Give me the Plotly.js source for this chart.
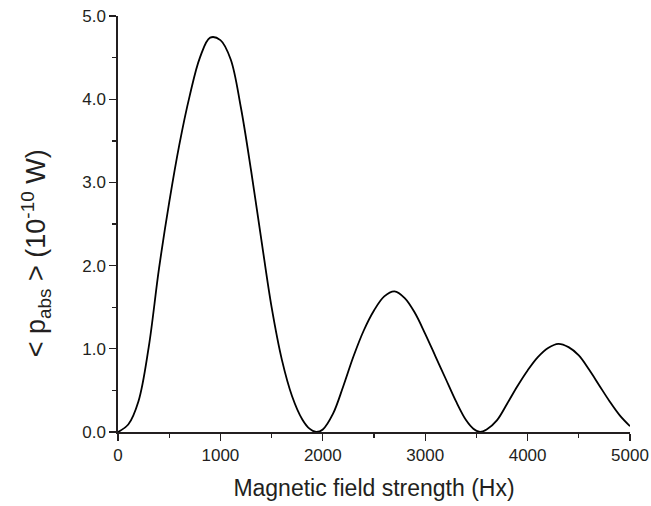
<!DOCTYPE html>
<html>
<head>
<meta charset="utf-8">
<script src="https://cdn.plot.ly/plotly-3.0.1.min.js"></script>
<style>html,body{margin:0;padding:0;background:#fff;}#chart{width:651px;height:506px;}</style>
</head>
<body>
<div id="chart"></div>
<script>
// Magnetic field strength (Hx) and absorbed power (10^-10 W)
var fieldHx = [0, 100, 200, 300, 400, 500, 600, 700, 800, 900, 1000, 1100, 1200, 1300, 1400, 1500, 1600, 1700, 1800, 1870, 1935,
  2000, 2100, 2200, 2300, 2400, 2500, 2600, 2700, 2800, 2900, 3000, 3100, 3200, 3300, 3400, 3470, 3535,
  3600, 3700, 3800, 3900, 4000, 4100, 4200, 4300, 4400, 4500, 4600, 4700, 4800, 4900, 5000];
var powerAbs = [0, 0.09, 0.37, 1.02, 1.96, 2.76, 3.46, 4.04, 4.5, 4.74, 4.71, 4.48, 3.9, 3.14, 2.31, 1.5, 0.87, 0.43, 0.15, 0.04, 0,
  0.03, 0.22, 0.55, 0.91, 1.22, 1.46, 1.63, 1.69, 1.61, 1.43, 1.18, 0.91, 0.64, 0.37, 0.14, 0.04, 0,
  0.03, 0.14, 0.34, 0.55, 0.74, 0.9, 1.01, 1.06, 1.02, 0.92, 0.75, 0.56, 0.37, 0.2, 0.07];
var xTickVals = [0, 1000, 2000, 3000, 4000, 5000];
var yTickVals = [0, 1, 2, 3, 4, 5];
var yTickText = ['0.0', '1.0', '2.0', '3.0', '4.0', '5.0'];

var ink = '#231f20';
var fam = 'Liberation Sans, Arial, sans-serif';
var trace = {
  x: fieldHx, y: powerAbs, type: 'scatter', mode: 'lines',
  line: {color: '#000', width: 1.8, shape: 'spline', smoothing: 1},
  hoverinfo: 'none'
};
var layout = {
  width: 651, height: 506,
  margin: {l: 118, r: 21, t: 16, b: 74},
  paper_bgcolor: '#fff', plot_bgcolor: '#fff',
  showlegend: false,
  font: {family: fam, color: ink},
  xaxis: {
    range: [0, 5000], tickvals: xTickVals, ticktext: xTickVals.map(String),
    showgrid: false, zeroline: false, showline: true, linecolor: ink, linewidth: 1.6,
    ticks: 'outside', ticklen: 7, tickwidth: 1.4, tickcolor: ink,
    minor: {dtick: 500, tick0: 0, ticks: 'outside', ticklen: 4, tickwidth: 1.4, tickcolor: ink, showgrid: false},
    tickfont: {size: 17, family: fam, color: ink},
    title: {text: 'Magnetic field strength (Hx)', font: {size: 23, family: fam, color: ink}, standoff: 16},
    fixedrange: true
  },
  yaxis: {
    range: [0, 5], tickvals: yTickVals, ticktext: yTickText,
    showgrid: false, zeroline: false, showline: true, linecolor: ink, linewidth: 1.6,
    ticks: 'outside', ticklen: 7, tickwidth: 1.4, tickcolor: ink,
    minor: {dtick: 0.5, tick0: 0, ticks: 'outside', ticklen: 4, tickwidth: 1.4, tickcolor: ink, showgrid: false},
    tickfont: {size: 17, family: fam, color: ink},
    fixedrange: true
  },
  annotations: [{
    text: '&lt; p<sub>abs</sub> &gt; (10<sup>-10</sup> W)',
    xref: 'paper', yref: 'paper', x: -0.16, y: 0.43, xanchor: 'center', yanchor: 'middle',
    textangle: -90, showarrow: false,
    font: {size: 27, family: fam, color: ink}
  }]
};
Plotly.newPlot('chart', [trace], layout, {displayModeBar: false, staticPlot: true});
</script>
</body>
</html>
